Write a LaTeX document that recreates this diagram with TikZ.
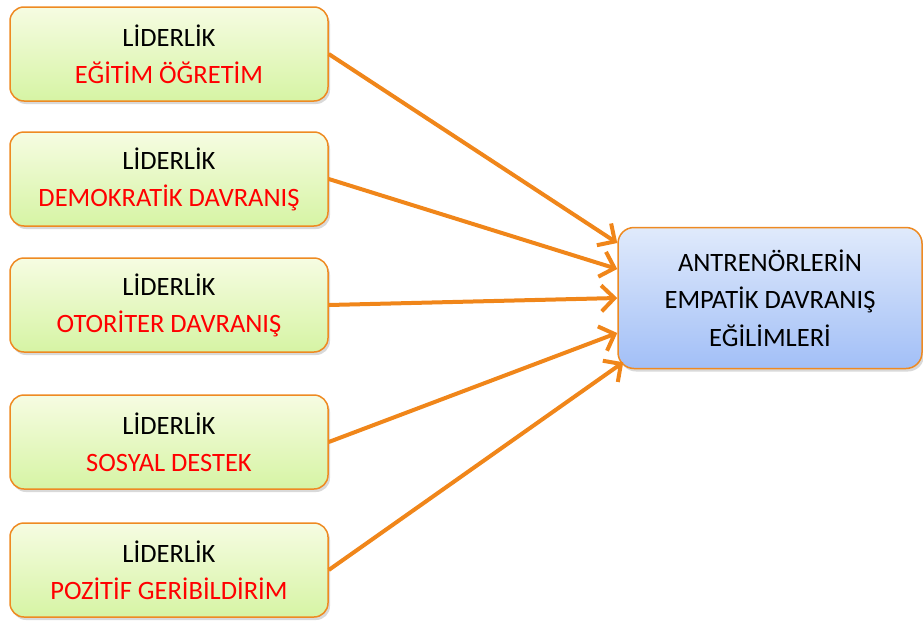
\documentclass[tikz,border=0pt]{standalone}
\usepackage{fontspec}
\setmainfont{Carlito}
\usetikzlibrary{arrows.meta,shadows,calc}
\definecolor{boxborder}{HTML}{EE8A22}
\definecolor{arrowc}{HTML}{F0861A}
\definecolor{greentop}{HTML}{F6FCE2}
\definecolor{greenbot}{HTML}{D6F4A4}
\definecolor{bluetop}{HTML}{E0EAFB}
\definecolor{bluebot}{HTML}{A2BFF7}
\definecolor{redtext}{HTML}{FF0000}
\tikzset{
  leftbox/.style={draw=boxborder, line width=1.5pt, rounded corners=14pt,
    top color=greentop, bottom color=greenbot,
    minimum width=318pt, minimum height=94pt, align=center,
    font=\fontsize{26.5}{37}\selectfont, inner sep=0pt,
    drop shadow={opacity=0.3, shadow xshift=2pt, shadow yshift=-3pt}},
  rightbox/.style={draw=boxborder, line width=1.5pt, rounded corners=16pt,
    top color=bluetop, bottom color=bluebot,
    minimum width=304pt, minimum height=141pt, align=center,
    font=\fontsize{26.5}{37.5}\selectfont, inner sep=0pt,
    drop shadow={opacity=0.3, shadow xshift=2pt, shadow yshift=-3pt}},
  conn/.style={draw=arrowc, line width=4pt,
    -{Straight Barb[length=13pt,width=26pt,line width=4pt]}}
}
\begin{document}
\begin{tikzpicture}[x=1pt,y=-1pt]
\useasboundingbox (0,0) rectangle (923,621);
\node[leftbox] (b1) at (169,54) {LİDERLİK\\{\color{redtext}EĞİTİM ÖĞRETİM}};
\node[leftbox] (b2) at (169,179) {LİDERLİK\\{\color{redtext}DEMOKRATİK DAVRANIŞ}};
\node[leftbox] (b3) at (169,305) {LİDERLİK\\{\color{redtext}OTORİTER DAVRANIŞ}};
\node[leftbox] (b4) at (169,442) {LİDERLİK\\{\color{redtext}SOSYAL DESTEK}};
\node[leftbox] (b5) at (169,570) {LİDERLİK\\{\color{redtext}POZİTİF GERİBİLDİRİM}};
\node[rightbox] (t) at (770,298) {ANTRENÖRLERİN\\EMPATİK DAVRANIŞ\\EĞİLİMLERİ};
\draw[conn] (b1.east) -- ([yshift=55pt]t.west);
\draw[conn] (b2.east) -- ([yshift=29pt]t.west);
\draw[conn] (b3.east) -- (t.west);
\draw[conn] (b4.east) -- ([yshift=-35pt]t.west);
\draw[conn] (b5.east) -- ([xshift=6pt,yshift=7pt]t.south west);
\end{tikzpicture}
\end{document}
